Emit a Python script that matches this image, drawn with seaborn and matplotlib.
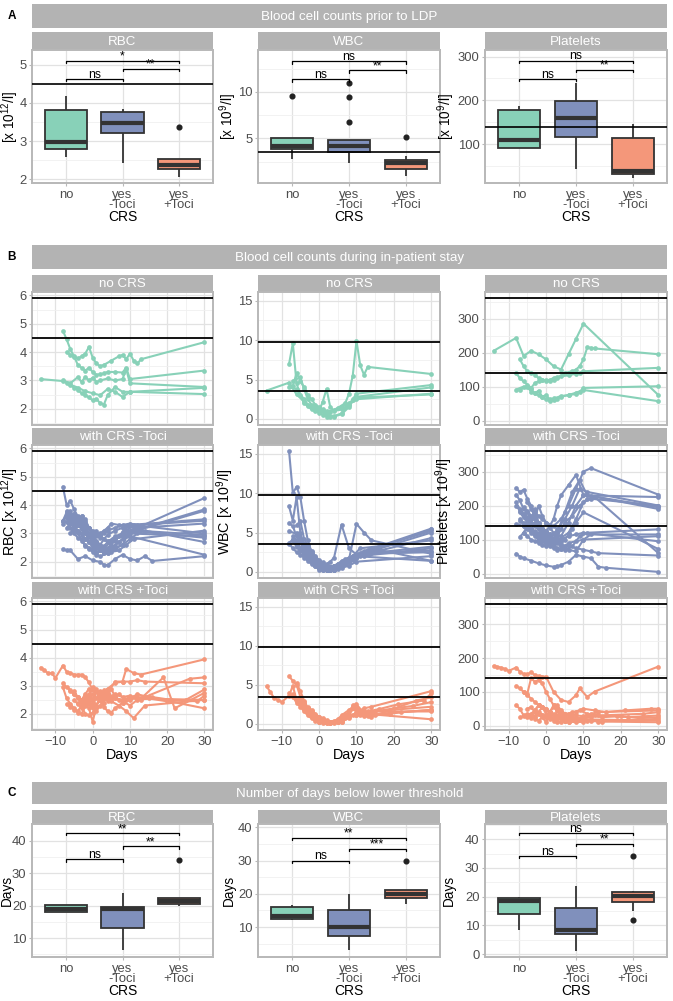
import matplotlib
matplotlib.use("Agg")
import matplotlib.pyplot as plt
import numpy as np
import pandas as pd
import seaborn as sns

# ---------------------------------------------------------------- data
groups = ["no", "yes\n-Toci", "yes\n+Toci"]
measures = ["RBC", "WBC", "Platelets"]
row_titles = ["no CRS", "with CRS -Toci", "with CRS +Toci"]

# Panel A: counts prior to LDP, per CRS group
pre_rbc = [[2.58, 2.8, 2.98, 3.82, 4.18],
           [2.42, 3.0, 3.2, 3.35, 3.48, 3.6, 3.77, 3.82, 3.85],
           [2.06, 2.2, 2.26, 2.3, 2.37, 2.45, 2.53, 2.53, 3.37]]
pre_wbc = [[2.8, 3.86, 4.15, 5.0, 9.6],
           [2.4, 3.0, 3.4, 3.57, 3.8, 4.0, 4.2, 4.4, 4.6, 4.8, 6.8, 9.5, 10.9],
           [0.9, 1.5, 1.7, 2.0, 2.3, 2.5, 2.7, 3.1, 5.1]]
pre_plt = [[90, 90, 110, 178, 186],
           [43, 100, 116, 140, 160, 175, 198, 220, 239],
           [22, 28, 32, 35, 38, 80, 115, 130, 146]]
pre_brk_y = [[4.63, 4.89, 5.11], [11.35, 12.3, 13.3], [249, 270, 291]]
pre_brk_lab = [["ns", "**", "*"], ["ns", "**", "ns"], ["ns", "**", "ns"]]

# Panel C: days below lower threshold
days_rbc = [[17.9, 17.9, 19.0, 20.2, 20.2],
            [6.2, 10, 13, 17, 19, 19.2, 19.5, 22, 24],
            [20, 20.3, 20.5, 21, 21.5, 22, 22.3, 22.3, 34]]
days_wbc = [[12, 12.5, 13.2, 16, 16.7],
            [3, 6, 7.2, 9, 10, 12, 15, 18, 20],
            [17, 18.5, 18.8, 19.5, 20, 20.5, 21.3, 21.3, 30]]
days_plt = [[8.4, 14, 18.5, 19.4, 20],
            [1, 5, 7, 7.5, 8.3, 12, 16, 20, 23.6],
            [12, 15, 18, 19.5, 20.4, 21, 21.8, 22, 34]]
days_brk_y = [[34.3, 38.3, 42.3], [30.0, 33.6, 36.8], [34.2, 38.4, 42.2]]
days_brk_lab = [["ns", "**", "**"], ["ns", "***", "**"], ["ns", "**", "ns"]]

# reference thresholds
lower_ref = [4.5, 3.5, 140]
upper_ref = [5.9, 9.8, 360]

# Panel B: per patient time courses (days relative to infusion)
nocrs_days = [[-14, -8, -6, -4, -2, 0, 2, 4, 6, 8, 10, 30],
              [-8, -7, -6, -5, -4, -3, -2, -1, 0, 1, 2, 3, 4, 6, 8, 9, 10, 30],
              [-7, -6, -5, -4, -3, -2, -1, 0, 1, 2, 3, 5, 7, 8, 9, 10, 11, 12, 13, 30],
              [-8, -6, -4, -3, -2, -1, 0, 1, 2, 4, 6, 8, 9, 10, 30],
              [-7, -5, -4, -3, -2, -1, 0, 1, 2, 3, 4, 6, 8, 10, 30]]
nocrs_rbc = [[3.05, 2.98, 2.85, 2.75, 2.62, 2.55, 2.48, 2.7, 2.6, 2.42, 2.6, 2.52],
             [4.75, 4.45, 4.1, 3.85, 3.55, 3.45, 3.35, 3.45, 3.3, 3.2, 3.22, 3.25, 3.3, 3.3, 3.28, 3.45, 3.05, 3.35],
             [4.0, 3.9, 3.82, 3.78, 3.85, 3.95, 4.18, 3.8, 3.6, 3.5, 3.55, 3.7, 3.85, 3.9, 3.75, 3.95, 3.7, 3.6, 3.75, 4.35],
             [3.0, 2.9, 3.12, 2.95, 3.12, 3.0, 3.1, 2.95, 3.0, 3.07, 3.0, 3.05, 3.4, 2.9, 2.77],
             [2.9, 2.75, 2.66, 2.55, 2.48, 2.4, 2.3, 2.35, 2.2, 2.15, 2.48, 2.77, 2.6, 2.6, 2.74]]
nocrs_wbc = [[3.6, 4.6, 3.1, 2.2, 1.5, 1.0, 0.6, 0.35, 0.7, 1.8, 2.7, 3.1],
             [7.0, 9.6, 4.5, 3.0, 2.0, 1.6, 1.2, 1.0, 0.8, 0.5, 0.3, 0.25, 0.3, 0.6, 1.5, 2.5, 3.2, 4.3],
             [4.2, 5.8, 4.8, 4.0, 3.0, 2.5, 1.8, 1.5, 1.2, 1.0, 0.9, 1.4, 2.0, 3.2, 5.5, 9.9, 6.8, 5.6, 6.6, 5.7],
             [4.0, 3.8, 2.5, 1.8, 1.5, 1.4, 1.2, 1.0, 0.9, 1.1, 1.5, 2.0, 2.4, 2.8, 4.0],
             [4.8, 5.3, 3.8, 2.5, 1.8, 1.4, 1.0, 2.2, 3.8, 1.5, 1.0, 1.2, 1.8, 2.5, 3.2]]
nocrs_plt = [[205, 243, 190, 205, 195, 180, 160, 150, 195, 240, 285, 75],
             [140, 125, 115, 106, 96, 110, 116, 118, 116, 120, 125, 128, 130, 133, 138, 140, 145, 155],
             [180, 160, 145, 140, 135, 125, 120, 118, 115, 120, 125, 140, 145, 150, 160, 180, 215, 214, 212, 195],
             [91, 100, 92, 80, 88, 70, 75, 62, 65, 72, 75, 78, 85, 96, 101],
             [91, 100, 85, 80, 75, 70, 62, 57, 60, 64, 70, 75, 82, 90, 57]]

mtoci_days = [[-8, -7, -6, -5, -4, -3, -2, -1, 0, 2, 4, 6, 8, 10, 12, 30],
              [-8, -7, -6, -5, -4, -3, -2, -1, 0, 1, 2, 3, 5, 7, 9, 11, 30],
              [-8, -7, -6, -4, -2, 0, 2, 3, 4, 6, 8, 10, 12, 14, 16, 30],
              [-8, -7, -6, -5, -4, -3, -2, -1, 0, 1, 2, 4, 6, 8, 10, 30],
              [-8, -6, -5, -4, -3, -2, -1, 0, 1, 2, 3, 4, 5, 7, 9, 11, 30],
              [-7, -6, -5, -4, -3, -2, -1, 0, 1, 2, 3, 4, 6, 8, 10, 12, 30],
              [-7, -6, -5, -4, -3, -2, -1, 0, 1, 2, 3, 4, 5, 6, 8, 10, 30],
              [-6, -5, -4, -3, -2, -1, 0, 1, 2, 3, 4, 6, 8, 10, 12, 30],
              [-7, -6, -5, -4, -3, -2, -1, 0, 1, 2, 4, 6, 8, 10, 12, 14, 30],
              [-6, -5, -4, -3, -2, -1, 0, 1, 2, 3, 5, 7, 9, 11, 30],
              [-5, -4, -3, -2, -1, 0, 1, 2, 3, 4, 5, 6, 7, 8, 10, 30],
              [-8, -7, -6, -5, -4, -3, -2, -1, 0, 1, 2, 4, 6, 8, 10, 30],
              [-6, -5, -4, -3, -2, -1, 0, 1, 2, 3, 4, 5, 7, 9, 11, 13, 30],
              [-7, -6, -5, -4, -3, -2, -1, 0, 1, 2, 3, 4, 6, 8, 10, 12, 30]]
mtoci_rbc = [[4.65, 4.0, 4.15, 3.85, 3.6, 3.5, 3.3, 3.2, 3.0, 2.9, 2.75, 2.8, 3.0, 3.1, 3.2, 4.25],
             [3.45, 3.6, 3.8, 3.5, 3.35, 3.2, 3.1, 2.9, 2.8, 2.6, 2.5, 2.4, 2.5, 2.7, 2.9, 3.1, 3.85],
             [2.45, 2.4, 2.4, 2.1, 2.2, 2.05, 2.0, 1.9, 1.88, 2.1, 2.25, 2.1, 2.05, 2.2, 2.03, 2.2],
             [3.45, 3.75, 3.6, 3.7, 3.45, 3.3, 3.5, 3.2, 3.1, 2.95, 2.85, 2.7, 2.75, 3.05, 3.3, 3.5],
             [3.35, 3.5, 3.3, 3.1, 3.0, 2.8, 2.7, 2.6, 2.5, 2.4, 2.35, 2.3, 2.35, 2.4, 2.6, 2.8, 3.1],
             [3.8, 3.65, 3.4, 3.3, 3.6, 3.45, 3.2, 3.0, 3.1, 2.9, 3.0, 3.1, 3.2, 3.3, 3.35, 3.3, 3.45],
             [3.2, 3.35, 3.5, 3.3, 3.15, 3.0, 2.75, 2.6, 2.7, 2.5, 2.35, 2.5, 2.6, 2.8, 2.9, 3.0, 2.9],
             [3.7, 3.55, 3.3, 3.5, 3.2, 3.0, 2.9, 2.75, 2.6, 2.8, 2.95, 3.1, 3.2, 3.25, 3.2, 3.35],
             [3.4, 3.2, 3.0, 2.85, 2.75, 2.6, 2.5, 2.4, 2.3, 2.4, 2.45, 2.5, 2.6, 2.8, 3.0, 3.1, 2.7],
             [3.6, 3.7, 3.55, 3.35, 3.1, 3.0, 2.85, 2.7, 2.6, 2.5, 2.7, 2.9, 3.1, 3.3, 3.0],
             [3.1, 3.3, 3.6, 3.25, 2.9, 2.7, 2.55, 2.4, 2.3, 2.35, 2.45, 2.55, 2.7, 2.8, 2.9, 2.25],
             [3.45, 3.6, 3.4, 3.2, 3.0, 2.8, 2.55, 2.45, 2.35, 2.25, 2.2, 2.3, 2.45, 2.6, 3.1, 2.85],
             [3.0, 3.2, 3.45, 3.3, 3.1, 2.95, 2.8, 2.9, 3.0, 3.1, 3.2, 3.35, 3.3, 3.25, 3.2, 3.15, 3.8],
             [3.55, 3.4, 3.25, 3.1, 2.95, 2.8, 2.7, 2.5, 2.35, 2.4, 2.55, 2.7, 2.9, 3.0, 3.05, 3.1, 2.95]]
mtoci_wbc = [[15.3, 10.0, 10.8, 9.5, 6.5, 4.0, 2.5, 1.5, 0.8, 0.4, 0.3, 0.8, 1.5, 2.0, 2.5, 5.4],
             [8.3, 6.5, 9.5, 5.0, 3.2, 2.1, 1.4, 0.9, 0.5, 0.3, 0.2, 0.3, 0.6, 1.0, 1.5, 2.2, 5.0],
             [3.7, 4.1, 3.2, 2.5, 1.6, 1.0, 0.6, 0.5, 0.4, 0.8, 1.2, 1.8, 2.0, 2.4, 2.8, 1.4],
             [6.2, 5.8, 4.5, 3.8, 2.6, 1.8, 1.2, 0.7, 0.3, 0.2, 0.2, 0.3, 0.7, 1.2, 2.0, 4.3],
             [5.2, 4.8, 3.8, 2.8, 2.0, 1.5, 1.0, 0.6, 0.4, 0.3, 0.25, 0.3, 0.5, 1.2, 2.0, 3.0, 4.0],
             [4.2, 3.6, 2.9, 2.2, 1.8, 1.4, 1.0, 0.7, 0.5, 0.4, 0.5, 0.7, 1.0, 1.5, 1.9, 2.3, 3.2],
             [3.9, 3.3, 2.7, 2.3, 1.9, 1.5, 1.1, 0.9, 0.7, 0.5, 0.6, 0.8, 1.0, 1.4, 1.8, 2.3, 2.7],
             [5.9, 6.5, 4.2, 3.4, 2.7, 2.0, 1.5, 1.2, 1.0, 1.3, 1.8, 6.0, 3.0, 2.2, 2.6, 5.5],
             [4.5, 4.0, 3.0, 2.4, 2.0, 1.6, 1.3, 1.0, 0.8, 0.6, 0.8, 1.1, 1.6, 6.1, 5.0, 4.0, 2.3],
             [5.0, 4.3, 3.5, 2.6, 1.9, 1.2, 0.8, 0.5, 0.3, 0.2, 0.4, 1.0, 1.6, 2.0, 3.0],
             [3.8, 3.2, 2.6, 2.0, 1.5, 1.2, 0.9, 0.7, 0.5, 0.4, 0.6, 0.9, 1.2, 1.5, 2.0, 1.4],
             [3.6, 3.0, 2.5, 2.2, 1.8, 1.4, 1.0, 0.7, 0.5, 0.4, 0.3, 0.3, 0.5, 0.8, 1.3, 2.0],
             [4.8, 4.2, 3.6, 3.0, 2.4, 1.9, 1.4, 1.0, 0.7, 0.6, 0.8, 1.0, 1.6, 2.0, 2.4, 2.8, 5.2],
             [4.1, 3.5, 2.9, 2.3, 1.8, 1.3, 0.9, 0.6, 0.4, 0.3, 0.3, 0.5, 0.9, 1.3, 1.8, 2.3, 2.5]]
mtoci_plt = [[251, 240, 246, 220, 200, 180, 170, 160, 150, 140, 160, 200, 250, 300, 310, 232],
             [209, 190, 175, 160, 150, 140, 130, 118, 110, 100, 95, 120, 180, 240, 275, 230, 195],
             [59, 50, 45, 38, 30, 24, 20, 21, 25, 35, 55, 50, 45, 20, 17, 5],
             [232, 215, 190, 185, 170, 160, 200, 170, 150, 135, 120, 110, 150, 200, 230, 225],
             [146, 140, 130, 120, 110, 100, 95, 90, 85, 80, 75, 72, 70, 80, 110, 120, 130],
             [180, 165, 150, 160, 170, 140, 120, 110, 100, 90, 95, 105, 120, 160, 210, 220, 200],
             [108, 120, 140, 130, 120, 100, 95, 90, 80, 75, 70, 72, 80, 90, 95, 100, 110],
             [195, 180, 160, 190, 150, 130, 125, 140, 160, 200, 230, 260, 290, 230, 228, 190],
             [160, 150, 140, 130, 125, 118, 110, 100, 95, 90, 85, 80, 75, 70, 65, 60, 53],
             [140, 150, 130, 120, 110, 105, 100, 110, 115, 130, 160, 200, 250, 240, 200],
             [210, 190, 170, 150, 135, 125, 115, 100, 95, 92, 100, 115, 130, 150, 180, 72],
             [200, 185, 175, 165, 150, 145, 135, 125, 120, 115, 105, 100, 110, 115, 120, 95],
             [120, 110, 100, 95, 90, 85, 80, 90, 100, 110, 130, 150, 170, 200, 220, 225, 60],
             [155, 145, 135, 125, 150, 140, 130, 120, 110, 100, 90, 80, 70, 65, 100, 115, 115]]

ptoci_days = [[-14, -13, -12, -11, -10, -8, -7, -6, -5, -4, -3, -2, -1, 0, 2, 4, 6, 8, 9, 11, 13, 30],
              [-8, -7, -6, -5, -4, -3, -2, -1, 0, 1, 2, 3, 4, 6, 8, 10, 12, 14, 30],
              [-8, -7, -6, -5, -4, -3, -2, -1, 0, 1, 2, 3, 4, 5, 6, 8, 10, 12, 30],
              [-7, -6, -5, -4, -3, -2, -1, 0, 1, 2, 3, 4, 5, 6, 8, 10, 12, 15, 30],
              [-5, -4, -3, -2, -1, 0, 1, 2, 3, 4, 5, 6, 7, 9, 11, 13, 19, 22, 30],
              [-4, -3, -2, -1, 0, 1, 2, 3, 4, 5, 6, 8, 10, 12, 14, 26, 30],
              [-3, -2, -1, 0, 1, 2, 3, 4, 5, 6, 7, 8, 10, 12, 15, 20, 25, 30],
              [-6, -5, -4, -3, -2, -1, 0, 1, 2, 3, 5, 7, 9, 11, 14, 30],
              [-5, -4, -3, -2, -1, 0, 1, 2, 3, 4, 6, 8, 10, 13, 16, 21, 28, 30]]
ptoci_rbc = [[3.65, 3.55, 3.45, 3.45, 3.28, 3.72, 3.5, 3.45, 3.4, 3.4, 3.4, 3.3, 3.12, 2.85, 2.7, 2.75, 3.15, 3.15, 3.6, 3.45, 3.4, 3.94],
             [3.09, 2.95, 2.85, 2.72, 2.6, 2.45, 2.36, 2.2, 1.72, 2.3, 2.6, 2.8, 2.9, 3.1, 3.15, 3.15, 3.2, 3.15, 3.09],
             [2.95, 2.55, 2.36, 2.2, 2.1, 2.3, 2.0, 1.95, 2.05, 2.3, 2.5, 2.7, 2.85, 2.6, 2.55, 2.5, 2.6, 2.55, 2.5],
             [2.35, 2.25, 2.15, 2.05, 2.0, 2.3, 2.6, 2.95, 2.8, 2.5, 2.25, 2.1, 2.05, 2.2, 2.4, 2.55, 2.7, 2.6, 2.2],
             [2.8, 2.6, 2.5, 2.7, 2.9, 2.5, 2.3, 2.6, 2.85, 2.6, 2.5, 2.65, 2.7, 2.5, 2.6, 2.55, 3.3, 2.2, 2.75],
             [2.4, 2.2, 2.65, 2.4, 2.25, 2.8, 2.6, 2.4, 2.7, 2.9, 2.6, 2.45, 2.3, 2.5, 2.6, 3.25, 3.3],
             [2.3, 2.5, 2.7, 2.4, 2.9, 2.5, 2.7, 2.45, 2.6, 2.55, 2.5, 2.4, 2.5, 2.6, 2.55, 2.45, 2.5, 2.87],
             [2.8, 2.7, 2.55, 2.4, 2.5, 2.35, 2.2, 2.1, 2.3, 2.55, 2.45, 2.3, 2.1, 1.85, 2.3, 2.5],
             [2.5, 2.35, 2.5, 2.6, 2.45, 2.7, 2.55, 2.8, 2.65, 2.6, 2.7, 2.6, 2.65, 2.5, 2.6, 2.5, 2.45, 2.65]]
ptoci_wbc = [[4.8, 4.1, 3.3, 3.1, 2.8, 3.6, 4.9, 3.0, 2.5, 2.0, 1.5, 1.0, 0.6, 0.3, 0.2, 0.2, 0.6, 1.2, 2.4, 1.5, 1.2, 1.8],
             [6.1, 5.5, 5.0, 3.5, 2.5, 1.5, 1.0, 0.6, 0.3, 0.2, 0.15, 0.1, 0.1, 0.3, 0.8, 1.5, 2.0, 2.2, 4.2],
             [4.0, 3.5, 2.7, 2.2, 1.6, 1.1, 0.7, 0.4, 0.2, 0.15, 0.1, 0.15, 0.2, 0.4, 0.8, 1.5, 2.0, 1.6, 1.6],
             [3.8, 3.2, 2.8, 2.0, 1.5, 1.2, 0.8, 0.5, 0.4, 0.3, 0.3, 0.4, 0.6, 1.1, 1.8, 2.5, 1.4, 1.2, 0.6],
             [3.5, 2.8, 2.0, 1.4, 0.9, 0.6, 0.5, 0.4, 0.3, 0.2, 0.2, 0.4, 1.0, 2.0, 1.2, 1.0, 1.3, 1.5, 1.8],
             [2.6, 2.0, 1.6, 1.2, 0.9, 0.7, 0.5, 0.3, 0.2, 0.2, 0.3, 1.0, 1.2, 1.0, 0.9, 3.0, 3.4],
             [2.2, 1.8, 1.3, 0.9, 0.6, 0.4, 0.3, 0.3, 0.5, 0.8, 1.2, 1.0, 1.1, 1.3, 1.6, 2.0, 2.3, 2.8],
             [5.2, 4.2, 3.0, 2.0, 1.3, 0.8, 0.5, 0.3, 0.2, 0.15, 0.3, 0.7, 1.2, 1.4, 1.6, 2.2],
             [2.9, 2.3, 1.7, 1.2, 0.8, 0.5, 0.3, 0.2, 0.2, 0.3, 0.6, 0.9, 1.3, 1.6, 1.9, 2.5, 3.0, 3.9]]
ptoci_plt = [[177, 174, 172, 168, 162, 172, 160, 153, 152, 158, 150, 147, 145, 145, 100, 76, 70, 90, 110, 85, 101, 175],
             [118, 110, 100, 95, 140, 130, 135, 125, 100, 80, 60, 45, 40, 35, 30, 28, 35, 40, 45],
             [60, 50, 30, 25, 22, 28, 35, 30, 25, 20, 15, 12, 10, 15, 20, 22, 20, 18, 15],
             [25, 28, 30, 35, 45, 60, 55, 50, 40, 30, 25, 20, 15, 12, 10, 12, 15, 12, 10],
             [50, 55, 40, 35, 30, 25, 40, 55, 60, 45, 35, 30, 40, 45, 35, 30, 28, 25, 30],
             [30, 25, 40, 55, 50, 40, 60, 50, 35, 25, 20, 18, 22, 25, 30, 35, 40],
             [20, 15, 25, 10, 30, 20, 45, 25, 15, 10, 30, 20, 25, 30, 25, 28, 22, 25],
             [100, 90, 80, 70, 60, 55, 45, 40, 35, 30, 25, 20, 18, 15, 12, 20],
             [35, 30, 45, 60, 55, 35, 25, 20, 15, 25, 35, 40, 50, 45, 40, 45, 50, 50]]

# ---------------------------------------------------------------- style
sns.set_theme(style="whitegrid")
plt.rcParams["font.family"] = ["Liberation Sans Narrow", "Liberation Sans", "DejaVu Sans"]
plt.rcParams["mathtext.fontset"] = "custom"
plt.rcParams["mathtext.rm"] = "Liberation Sans"
plt.rcParams["mathtext.it"] = "Liberation Sans:italic"

pal = ["#88D1B8", "#8090BC", "#F4977A"]
STRIP = "#B3B3B3"
BORDER = "#B8B8B8"
TICK_FS = 9.4
W, H = 673, 1001
fig = plt.figure(figsize=(W / 100, H / 100), dpi=100)
COLS = [(32, 213), (258, 440), (485, 667)]
YLAB_X_A = [21, 239, 457]        # right edge of the y-axis titles (pixels)
YLAB_X_B = [21, 236, 455]
YLAB_X_C = [14, 236, 456]


def add_ax(x0, y0, x1, y1):
    return fig.add_axes([x0 / W, 1 - y1 / H, (x1 - x0) / W, (y1 - y0) / H])


def strip(x0, y0, x1, y1, text, size=9.6):
    a = add_ax(x0, y0, x1, y1)
    a.set_facecolor(STRIP)
    a.set_xticks([])
    a.set_yticks([])
    a.grid(False)
    for s in a.spines.values():
        s.set_visible(False)
    a.text(0.5, 0.46, text, color="white", ha="center", va="center",
           fontsize=size, transform=a.transAxes)


def style(ax, ylim, yticks, yminor):
    ax.set_ylim(*ylim)
    ax.set_yticks(yticks)
    ax.set_yticks(yminor, minor=True)
    ax.grid(True, which="major", color="#E2E2E2", lw=0.9)
    ax.grid(True, which="minor", color="#F0F0F0", lw=0.6)
    ax.set_axisbelow(True)
    ax.set_facecolor("white")
    for s in ax.spines.values():
        s.set_visible(True)
        s.set_color(BORDER)
        s.set_linewidth(1.4)
    ax.tick_params(which="major", length=2.5, width=0.8, color=BORDER,
                   labelsize=TICK_FS, labelcolor="#4D4D4D", pad=1.5,
                   left=True, bottom=True)
    ax.tick_params(which="minor", length=0)


def set_ylab(ax, xpix, x0, x1, text, size):
    ax.set_ylabel(text, fontsize=size, color="black")
    ax.yaxis.set_label_coords((xpix - x0) / (x1 - x0), 0.5)


def box_panel(ax, xpix, x0, x1, data, ylim, yticks, yminor, hline, brk_y,
              brk_lab, ylabel):
    df = pd.DataFrame({"CRS": [g for g, v in zip(groups, data) for _ in v],
                       "value": [x for v in data for x in v]})
    sns.boxplot(data=df, x="CRS", y="value", hue="CRS", order=groups,
                hue_order=groups, palette=pal, saturation=1, width=0.75,
                linewidth=1.3, linecolor="#333333", showcaps=False,
                flierprops=dict(marker="o", markersize=3.4,
                                markerfacecolor="#222222",
                                markeredgecolor="#222222"),
                medianprops=dict(linewidth=3.0, color="#333333"),
                legend=False, ax=ax)
    if hline is not None:
        ax.axhline(hline, color="black", lw=1.2, zorder=6)
    span = ylim[1] - ylim[0]
    pairs = [(0, 1), (1, 2), (0, 2)]
    for (i, j), y, lab in zip(pairs, brk_y, brk_lab):
        d = span * 0.018
        ax.plot([i, i, j, j], [y - d, y, y, y - d], color="black", lw=0.9,
                zorder=6)
        ax.text((i + j) / 2, y - span * 0.014, lab, ha="center", va="bottom",
                fontsize=8.8, color="black", zorder=7)
    ax.set_xlim(-0.6, 2.6)
    style(ax, ylim, yticks, yminor)
    ax.set_xticks([0, 1, 2])
    ax.set_xticklabels(groups, linespacing=0.88)
    ax.set_xlabel("CRS", fontsize=10, color="black", labelpad=-1)
    set_ylab(ax, xpix, x0, x1, ylabel, 9.8)


def panel_header(y0, y1, text, letter):
    strip(32, y0, 667, y1, text, size=9.6)
    fig.text(12 / W, 1 - (y0 + y1) / 2 / H, letter, fontsize=8.5,
             fontweight="bold", ha="center", va="center", color="black",
             family=["Liberation Sans", "DejaVu Sans"])


# ---------------------------------------------------------------- panel A
panel_header(4, 28, "Blood cell counts prior to LDP", "A")
pre_data = [pre_rbc, pre_wbc, pre_plt]
pre_lims = [(1.9, 5.39), (0.2, 14.5), (11, 315)]
pre_ticks = [[2, 3, 4, 5], [5, 10], [100, 200, 300]]
pre_minor = [[2.5, 3.5, 4.5], [2.5, 7.5, 12.5], [50, 150, 250]]
pre_ylab = [r"[x 10$^{12}$/l]", r"[x 10$^{9}$/l]", r"[x 10$^{9}$/l]"]
for k, (x0, x1) in enumerate(COLS):
    strip(x0, 32, x1, 50, measures[k])
    ax = add_ax(x0, 50, x1, 183)
    box_panel(ax, YLAB_X_A[k], x0, x1, pre_data[k], pre_lims[k],
              pre_ticks[k], pre_minor[k], lower_ref[k], pre_brk_y[k],
              pre_brk_lab[k], pre_ylab[k])

# ---------------------------------------------------------------- panel B
panel_header(245, 269, "Blood cell counts during in-patient stay", "B")
rows = []
sets = [(row_titles[0], nocrs_days, [nocrs_rbc, nocrs_wbc, nocrs_plt]),
        (row_titles[1], mtoci_days, [mtoci_rbc, mtoci_wbc, mtoci_plt]),
        (row_titles[2], ptoci_days, [ptoci_rbc, ptoci_wbc, ptoci_plt])]
for gname, days, vals in sets:
    for pid, d in enumerate(days):
        for m, series in zip(measures, vals):
            for di, vi in zip(d, series[pid], strict=True):
                rows.append((gname, pid, m, di, vi))
long = pd.DataFrame(rows, columns=["group", "pid", "measure", "day", "value"])

b_lims = [(1.43, 6.12), (-0.77, 16.1), (-13, 378)]
b_ticks = [[2, 3, 4, 5, 6], [0, 5, 10, 15], [0, 100, 200, 300]]
b_minor = [[1.5, 2.5, 3.5, 4.5, 5.5], [2.5, 7.5, 12.5], [50, 150, 250, 350]]
b_ylab = [r"RBC [x 10$^{12}$/l]", r"WBC [x 10$^{9}$/l]", r"Platelets [x 10$^{9}$/l]"]
row_pos = [(275, 292, 425), (428, 445, 578), (582, 598, 730)]
for r, (sy0, sy1, py1) in enumerate(row_pos):
    for k, (x0, x1) in enumerate(COLS):
        strip(x0, sy0, x1, sy1, row_titles[r])
        ax = add_ax(x0, sy1, x1, py1)
        sub = long[(long.group == row_titles[r]) & (long.measure == measures[k])]
        sns.lineplot(data=sub, x="day", y="value", units="pid", estimator=None,
                     color=pal[r], lw=1.5, marker="o", markersize=3.4,
                     markeredgewidth=0, ax=ax, legend=False)
        ax.axhline(lower_ref[k], color="black", lw=1.3, zorder=6)
        ax.axhline(upper_ref[k], color="black", lw=1.3, zorder=6)
        ax.set_xlim(-16.3, 32.3)
        style(ax, b_lims[k], b_ticks[k], b_minor[k])
        ax.set_xticks([-10, 0, 10, 20, 30])
        ax.set_xticks([-15, -5, 5, 15, 25], minor=True)
        if r < 2:
            ax.set_xticklabels([])
            ax.tick_params(axis="x", which="major", length=0)
            ax.set_xlabel("")
        else:
            ax.set_xlabel("Days", fontsize=10.3, color="black", labelpad=0)
        if r == 1:
            set_ylab(ax, YLAB_X_B[k], x0, x1, b_ylab[k], 10.3)
        else:
            ax.set_ylabel("")

# ---------------------------------------------------------------- panel C
panel_header(782, 804, "Number of days below lower threshold", "C")
c_data = [days_rbc, days_wbc, days_plt]
c_lims = [(4.2, 45.1), (1.0, 41.0), (-1.0, 45.3)]
c_ticks = [[10, 20, 30, 40], [10, 20, 30, 40], [0, 10, 20, 30, 40]]
c_minor = [[5, 15, 25, 35, 45], [5, 15, 25, 35], [5, 15, 25, 35, 45]]
for k, (x0, x1) in enumerate(COLS):
    strip(x0, 810, x1, 824, measures[k])
    ax = add_ax(x0, 824, x1, 957)
    box_panel(ax, YLAB_X_C[k], x0, x1, c_data[k], c_lims[k], c_ticks[k],
              c_minor[k], None, days_brk_y[k], days_brk_lab[k], "Days")

fig.savefig("out.png", dpi=100)
